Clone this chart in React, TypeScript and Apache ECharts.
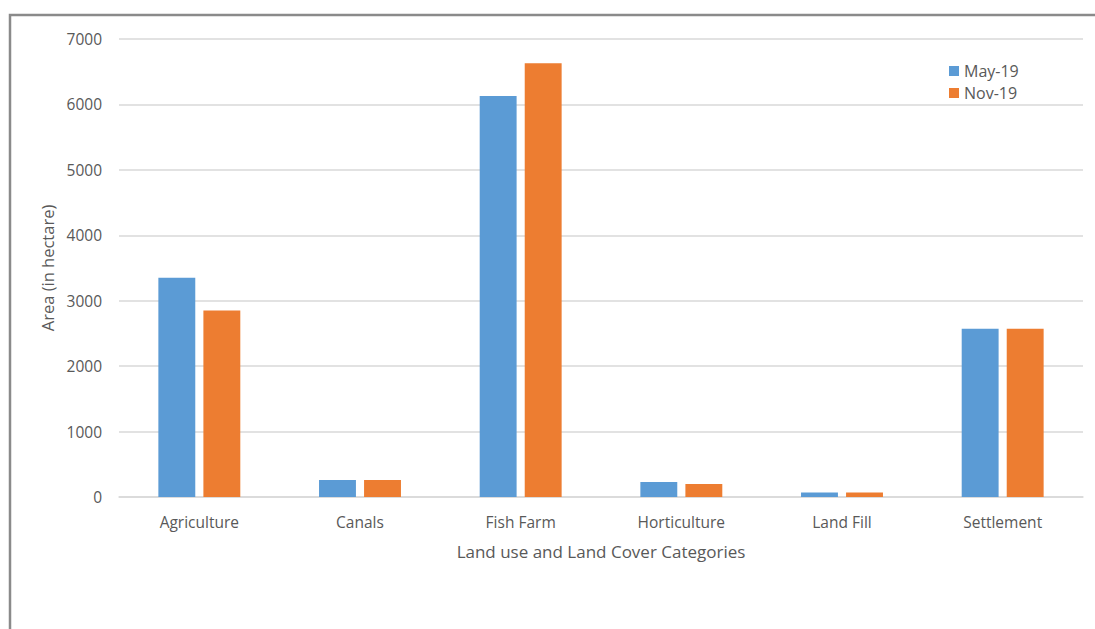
import React, { useEffect, useRef } from "react";
import * as echarts from "echarts";

const categories = ["Agriculture", "Canals", "Fish Farm", "Horticulture", "Land Fill", "Settlement"];
const may19 = [3350, 260, 6130, 230, 70, 2570];
const nov19 = [2850, 260, 6630, 200, 70, 2570];
const seriesNames = ["May-19", "Nov-19"];

const FONT = "'Open Sans', 'Noto Sans', sans-serif";
const TEXT = "#595959";

export default function App() {
  const ref = useRef<HTMLDivElement>(null);

  useEffect(() => {
    if (!ref.current) return;
    const chart = echarts.init(ref.current, null, { renderer: "svg" });
    chart.setOption({
      animation: false,
      backgroundColor: "#ffffff",
      textStyle: { fontFamily: FONT },
      graphic: [
        {
          type: "rect",
          shape: { x: 10, y: 15, width: 1200, height: 800 },
          style: { fill: "none", stroke: "#8a8a8a", lineWidth: 2.5 },
          silent: true,
        },
      ],
      legend: {
        orient: "vertical",
        left: 944,
        top: 58,
        itemWidth: 10,
        itemHeight: 10,
        itemGap: 6,
        icon: "rect",
        textStyle: { color: TEXT, fontSize: 16, fontFamily: FONT },
        data: seriesNames,
      },
      grid: { left: 119, right: 12, top: 39, bottom: 132, containLabel: false },
      xAxis: {
        type: "category",
        data: categories,
        name: "Land use and Land Cover Categories",
        nameLocation: "middle",
        nameGap: 46,
        nameTextStyle: { color: TEXT, fontSize: 17, fontFamily: FONT, verticalAlign: "top" },
        axisLine: { show: true, lineStyle: { color: "#d9d9d9", width: 1.5 } },
        axisTick: { show: false },
        axisLabel: { color: TEXT, fontSize: 15.5, margin: 17, fontFamily: FONT },
      },
      yAxis: {
        type: "value",
        min: 0,
        max: 7000,
        interval: 1000,
        name: "Area (in hectare)",
        nameLocation: "middle",
        nameRotate: 90,
        nameGap: 61,
        nameTextStyle: { color: TEXT, fontSize: 16.5, fontFamily: FONT },
        axisLine: { show: false },
        axisTick: { show: false },
        axisLabel: {
          color: TEXT,
          fontSize: 15.5,
          margin: 17,
          fontFamily: FONT,
          formatter: (v: number) => String(v),
        },
        splitLine: { lineStyle: { color: "#d9d9d9", width: 1.5 } },
      },
      series: [
        {
          name: seriesNames[0],
          type: "bar",
          data: may19,
          itemStyle: { color: "#5b9bd5" },
          barGap: "22%",
          barCategoryGap: "49%",
        },
        {
          name: seriesNames[1],
          type: "bar",
          data: nov19,
          itemStyle: { color: "#ed7d31" },
          barGap: "22%",
          barCategoryGap: "49%",
        },
      ],
    });
    return () => chart.dispose();
  }, []);

  return (
    <div
      ref={ref}
      style={{ position: "absolute", left: 0, top: 0, width: 1095, height: 629 }}
    />
  );
}
